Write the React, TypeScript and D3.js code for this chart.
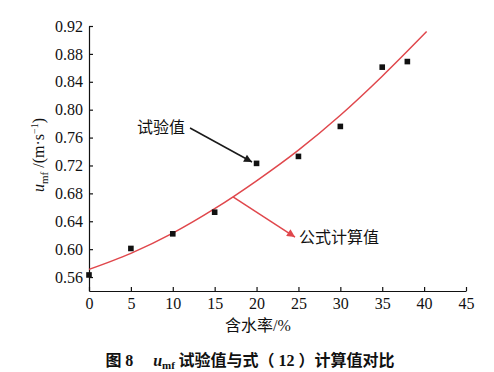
import React, { useRef, useEffect } from "react";
import * as d3 from "d3";

// measured points (water content %, u_mf m/s)
const testX = [0, 5, 10, 15, 20, 25, 30, 35, 38];
const testY = [0.563, 0.601, 0.622, 0.653, 0.723, 0.733, 0.776, 0.861, 0.869];

// formula (12) curve
const calcX = [0, 5, 10, 15, 20, 25, 30, 35, 40.3];
const calcY = [0.571, 0.594, 0.623, 0.658, 0.698, 0.742, 0.792, 0.848, 0.912];

const xTicks = [0, 5, 10, 15, 20, 25, 30, 35, 40, 45];
const yTicks = [0.56, 0.6, 0.64, 0.68, 0.72, 0.76, 0.8, 0.84, 0.88, 0.92];

const W = 494,
  H = 372;
const serif = "'Liberation Serif', 'Times New Roman', serif";
const cjk = "'Noto Sans CJK SC', sans-serif";
const red = "#e0474c";

const App: React.FC = () => {
  const ref = useRef<SVGSVGElement>(null);

  useEffect(() => {
    const svg = d3.select(ref.current);
    svg.selectAll("*").remove();

    const x = d3.scaleLinear().domain([0, 45]).range([89, 466]);
    const y = d3.scaleLinear().domain([0.54, 0.92]).range([291, 26]);

    const defs = svg.append("defs");
    const mk = (id: string, color: string) =>
      defs
        .append("marker")
        .attr("id", id)
        .attr("viewBox", "0 0 10 10")
        .attr("refX", 10)
        .attr("refY", 5)
        .attr("markerWidth", 10)
        .attr("markerHeight", 8)
        .attr("markerUnits", "userSpaceOnUse")
        .attr("orient", "auto")
        .append("path")
        .attr("d", "M0,0L10,5L0,10z")
        .attr("fill", color);
    mk("ah-black", "#1a1a1a");
    mk("ah-red", red);

    // axes
    const xAxisG = svg
      .append("g")
      .attr("transform", `translate(0,${y(0.54)})`)
      .call(
        d3.axisBottom(x).tickValues(xTicks).tickSizeInner(-4).tickSizeOuter(0).tickPadding(7)
      );
    const yAxisG = svg
      .append("g")
      .attr("transform", `translate(${x(0)},0)`)
      .call(
        d3
          .axisLeft(y)
          .tickValues(yTicks)
          .tickFormat(d3.format(".2f"))
          .tickSizeInner(-4)
          .tickSizeOuter(0)
          .tickPadding(6)
      );
    [xAxisG, yAxisG].forEach((g) => {
      g.selectAll("path,line").attr("stroke", "#111").attr("stroke-width", 1.2);
      g.selectAll("text")
        .attr("font-family", serif)
        .attr("font-size", 16)
        .attr("fill", "#111");
    });

    // formula curve
    const line = d3
      .line<number>()
      .x((d, i) => x(calcX[i]))
      .y((d) => y(d))
      .curve(d3.curveMonotoneX);
    svg
      .append("path")
      .attr("d", line(calcY))
      .attr("fill", "none")
      .attr("stroke", red)
      .attr("stroke-width", 1.5);

    // test points
    svg
      .append("g")
      .selectAll("rect")
      .data(testY)
      .enter()
      .append("rect")
      .attr("x", (d, i) => x(testX[i]) - 2.8)
      .attr("y", (d) => y(d) - 2.8)
      .attr("width", 5.6)
      .attr("height", 5.6)
      .attr("fill", "#111");

    // annotations
    svg
      .append("line")
      .attr("x1", x(12.06))
      .attr("y1", y(0.7737))
      .attr("x2", x(19.46))
      .attr("y2", y(0.725))
      .attr("stroke", "#1a1a1a")
      .attr("stroke-width", 1.5)
      .attr("marker-end", "url(#ah-black)");
    svg
      .append("text")
      .attr("x", x(11.46))
      .attr("y", y(0.7666))
      .attr("text-anchor", "end")
      .attr("font-family", cjk)
      .attr("font-size", 16)
      .attr("fill", "#111")
      .text("试验值");

    svg
      .append("line")
      .attr("x1", x(17.19))
      .attr("y1", y(0.6748))
      .attr("x2", x(24.59))
      .attr("y2", y(0.6174))
      .attr("stroke", red)
      .attr("stroke-width", 1.5)
      .attr("marker-end", "url(#ah-red)");
    svg
      .append("text")
      .attr("x", x(25.07))
      .attr("y", y(0.6088))
      .attr("font-family", cjk)
      .attr("font-size", 16)
      .attr("fill", "#111")
      .text("公式计算值");

    // axis titles
    const xl = svg
      .append("text")
      .attr("x", 258)
      .attr("y", 331)
      .attr("text-anchor", "middle")
      .attr("font-size", 16)
      .attr("fill", "#111");
    xl.append("tspan").attr("font-family", cjk).text("含水率");
    xl.append("tspan").attr("font-family", serif).text("/%");

    const yl = svg
      .append("text")
      .attr("transform", "translate(44,155) rotate(-90)")
      .attr("text-anchor", "middle")
      .attr("font-family", serif)
      .attr("font-size", 16)
      .attr("fill", "#111");
    yl.append("tspan").attr("font-style", "italic").text("u");
    yl.append("tspan").attr("font-size", 11).attr("dy", 4).text("mf");
    yl.append("tspan").attr("dy", -4).text(" /(m·s");
    yl.append("tspan").attr("font-size", 10).attr("dy", -6).text("−1");
    yl.append("tspan").attr("dy", 6).text(")");

    // caption
    const cap = svg
      .append("text")
      .attr("x", 250)
      .attr("y", 366)
      .attr("text-anchor", "middle")
      .attr("font-size", 16)
      .attr("font-weight", "bold")
      .attr("fill", "#111");
    cap.append("tspan").attr("font-family", cjk).text("图 ");
    cap.append("tspan").attr("font-family", serif).text("8\u2003 ");
    cap.append("tspan").attr("font-family", serif).attr("font-style", "italic").text("u");
    cap.append("tspan").attr("font-family", serif).attr("font-size", 11).attr("dy", 3).text("mf");
    cap.append("tspan").attr("font-family", cjk).attr("dy", -3).text(" 试验值与式（");
    cap.append("tspan").attr("font-family", serif).text(" 12 ");
    cap.append("tspan").attr("font-family", cjk).text("）计算值对比");
  }, []);

  return (
    <div style={{ position: "absolute", left: 0, top: 0 }}>
      <svg ref={ref} width={W} height={H} style={{ display: "block", background: "#fff" }} />
    </div>
  );
};

export default App;
